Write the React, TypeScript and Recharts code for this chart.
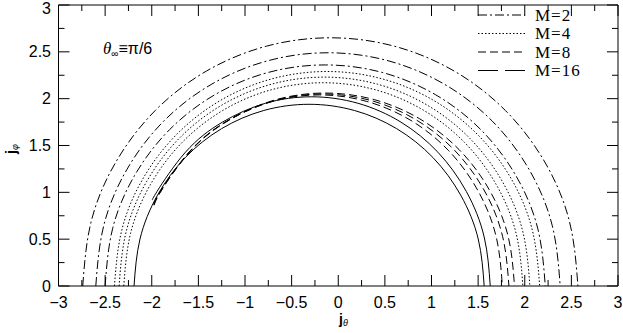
import React from 'react';
import { LineChart, Line, XAxis, YAxis } from 'recharts';

const X_TICKS = [-3, -2.75, -2.5, -2.25, -2, -1.75, -1.5, -1.25, -1, -0.75, -0.5, -0.25, 0, 0.25, 0.5, 0.75, 1, 1.25, 1.5, 1.75, 2, 2.25, 2.5, 2.75, 3];
const Y_TICKS = [0, 0.25, 0.5, 0.75, 1, 1.25, 1.5, 1.75, 2, 2.25, 2.5, 2.75, 3];

// M=2 (dash-dot)
const m2a = [[-2.74, 0], [-2.65, 0.686], [-2.384, 1.325], [-1.962, 1.874], [-1.413, 2.295], [-0.772, 2.56], [-0.085, 2.65], [0.602, 2.56], [1.243, 2.295], [1.792, 1.874], [2.214, 1.325], [2.48, 0.686], [2.57, 0]];
const m2b = [[-2.6, 0], [-2.515, 0.644], [-2.266, 1.245], [-1.871, 1.761], [-1.355, 2.156], [-0.754, 2.405], [-0.11, 2.49], [0.534, 2.405], [1.135, 2.156], [1.651, 1.761], [2.046, 1.245], [2.295, 0.644], [2.38, 0]];
const m2c = [[-2.5, 0], [-2.42, 0.611], [-2.184, 1.18], [-1.809, 1.669], [-1.32, 2.044], [-0.751, 2.28], [-0.14, 2.36], [0.471, 2.28], [1.04, 2.044], [1.529, 1.669], [1.904, 1.18], [2.14, 0.611], [2.22, 0]];
// M=4 (dotted)
const m4a = [[-2.4, 0], [-2.322, 0.593], [-2.095, 1.145], [-1.732, 1.619], [-1.26, 1.983], [-0.71, 2.212], [-0.12, 2.29], [0.47, 2.212], [1.02, 1.983], [1.492, 1.619], [1.855, 1.145], [2.082, 0.593], [2.16, 0]];
const m4b = [[-2.35, 0], [-2.275, 0.577], [-2.055, 1.115], [-1.705, 1.577], [-1.249, 1.931], [-0.718, 2.154], [-0.148, 2.23], [0.423, 2.154], [0.954, 1.931], [1.41, 1.577], [1.76, 1.115], [1.98, 0.577], [2.055, 0]];
const m4c = [[-2.3, 0], [-2.227, 0.562], [-2.013, 1.085], [-1.673, 1.534], [-1.23, 1.879], [-0.714, 2.096], [-0.16, 2.17], [0.394, 2.096], [0.91, 1.879], [1.353, 1.534], [1.693, 1.085], [1.907, 0.562], [1.98, 0]];
// M=8 (dashed)
const m8a = [[-1.98, 0.871], [-1.898, 1.03], [-1.575, 1.457], [-1.155, 1.784], [-0.665, 1.99], [-0.14, 2.06], [0.385, 1.99], [0.875, 1.784], [1.295, 1.457], [1.618, 1.03], [1.821, 0.533], [1.89, 0]];
const m8b = [[-1.973, 0.866], [-1.893, 1.025], [-1.576, 1.45], [-1.163, 1.775], [-0.681, 1.98], [-0.165, 2.05], [0.351, 1.98], [0.833, 1.775], [1.246, 1.45], [1.563, 1.025], [1.762, 0.531], [1.83, 0]];
const m8c = [[-1.976, 0.862], [-1.897, 1.02], [-1.586, 1.443], [-1.18, 1.767], [-0.707, 1.97], [-0.2, 2.04], [0.307, 1.97], [0.78, 1.767], [1.186, 1.443], [1.497, 1.02], [1.693, 0.528], [1.76, 0]];
// solid
const solidA = [[-1.99, 0.92], [-1.943, 1.01], [-1.639, 1.428], [-1.243, 1.749], [-0.781, 1.951], [-0.285, 2.02], [0.211, 1.951], [0.673, 1.749], [1.069, 1.428], [1.373, 1.01], [1.565, 0.523], [1.63, 0]];
const solidB = [[-2.19, 0], [-2.126, 0.502], [-1.938, 0.97], [-1.64, 1.372], [-1.251, 1.68], [-0.798, 1.874], [-0.313, 1.94], [0.173, 1.874], [0.626, 1.68], [1.015, 1.372], [1.313, 0.97], [1.501, 0.502], [1.565, 0]];

const LEGEND = ['M=2', 'M=4', 'M=8', 'M=16'];
const DASH_M2 = '9 3 2 3';
const DASH_M4 = '1.5 2';
const DASH_M8 = '8 4';
const DASH_M16 = '20 7';

const toPts = (arr: number[][]) => arr.map(([x, y]) => ({ x, y }));

const SERIES = [
  { id: 'm2a', data: m2a, dash: DASH_M2 },
  { id: 'm2b', data: m2b, dash: DASH_M2 },
  { id: 'm2c', data: m2c, dash: DASH_M2 },
  { id: 'm4a', data: m4a, dash: DASH_M4 },
  { id: 'm4b', data: m4b, dash: DASH_M4 },
  { id: 'm4c', data: m4c, dash: DASH_M4 },
  { id: 'm8a', data: m8a, dash: DASH_M8 },
  { id: 'm8b', data: m8b, dash: DASH_M8 },
  { id: 'm8c', data: m8c, dash: DASH_M8 },
  { id: 'sa', data: solidA, dash: undefined },
  { id: 'sb', data: solidB, dash: undefined },
];

const FONT = '"Liberation Sans", Arial, sans-serif';
const fmt = (v: number) => (v < 0 ? '\u2212' + String(-v) : String(v));
const isMajor = (v: number) => Math.abs(v * 2 - Math.round(v * 2)) < 1e-6;
const MAJ = 11;
const MIN = 6;

const BottomTick = (p: any) => {
  const v = p.payload.value;
  const maj = isMajor(v);
  return (
    <g>
      <line x1={p.x} x2={p.x} y1={p.y} y2={p.y - (maj ? MAJ : MIN)} stroke="#000" strokeWidth={1} />
      {maj && (
        <text x={p.x} y={p.y + 16} textAnchor="middle" dominantBaseline="central" fontFamily={FONT} fontSize={16} fill="#000">
          {fmt(v)}
        </text>
      )}
    </g>
  );
};
const TopTick = (p: any) => {
  const maj = isMajor(p.payload.value);
  return <line x1={p.x} x2={p.x} y1={p.y} y2={p.y + (maj ? MAJ : MIN)} stroke="#000" strokeWidth={1} />;
};
const LeftTick = (p: any) => {
  const v = p.payload.value;
  const maj = isMajor(v);
  return (
    <g>
      <line x1={p.x} x2={p.x + (maj ? MAJ : MIN)} y1={p.y} y2={p.y} stroke="#000" strokeWidth={1} />
      {maj && (
        <text x={p.x - 7.5} y={Math.max(p.y, 8)} textAnchor="end" dominantBaseline="central" fontFamily={FONT} fontSize={16} fill="#000">
          {fmt(v)}
        </text>
      )}
    </g>
  );
};
const RightTick = (p: any) => {
  const maj = isMajor(p.payload.value);
  return <line x1={p.x} x2={p.x - (maj ? MAJ : MIN)} y1={p.y} y2={p.y} stroke="#000" strokeWidth={1} />;
};

export default function App() {
  const legendDashes = [DASH_M2, DASH_M4, DASH_M8, DASH_M16];
  return (
    <div style={{ position: 'absolute', left: 0, top: 0, width: 623, height: 333, background: '#fff' }}>
      <LineChart width={623} height={333} margin={{ top: 4, right: 4, bottom: 46, left: 57.5 }}>
        <XAxis xAxisId="b" type="number" dataKey="x" domain={[-3, 3]} ticks={X_TICKS} interval={0} height={1}
          tickSize={0} tickMargin={0} tickLine={false} axisLine={{ stroke: '#000' }} tick={(p: any) => <BottomTick {...p} />} allowDataOverflow />
        <XAxis xAxisId="t" orientation="top" type="number" dataKey="x" domain={[-3, 3]} ticks={X_TICKS} interval={0} height={1}
          tickSize={0} tickMargin={0} tickLine={false} axisLine={{ stroke: '#000' }} tick={(p: any) => <TopTick {...p} />} allowDataOverflow />
        <YAxis yAxisId="l" type="number" domain={[0, 3]} ticks={Y_TICKS} interval={0} width={1}
          tickSize={0} tickMargin={0} tickLine={false} axisLine={{ stroke: '#000' }} tick={(p: any) => <LeftTick {...p} />} allowDataOverflow />
        <YAxis yAxisId="r" orientation="right" type="number" domain={[0, 3]} ticks={Y_TICKS} interval={0} width={1}
          tickSize={0} tickMargin={0} tickLine={false} axisLine={{ stroke: '#000' }} tick={(p: any) => <RightTick {...p} />} allowDataOverflow />
        {SERIES.map((s) => (
          <Line key={s.id} data={toPts(s.data)} xAxisId="b" yAxisId="l" dataKey="y" type="natural" dot={false} activeDot={false}
            stroke="#000" strokeWidth={1} strokeDasharray={s.dash} isAnimationActive={false} />
        ))}
      </LineChart>
      <svg width={623} height={333} style={{ position: 'absolute', left: 0, top: 0, pointerEvents: 'none' }}>
        {LEGEND.map((t, i) => {
          const y = 15 + i * 18.5;
          return (
            <g key={t}>
              <line x1={478} x2={525} y1={y} y2={y} stroke="#000" strokeWidth={1} strokeDasharray={legendDashes[i]} />
              <text x={535} y={y} dominantBaseline="central" fontFamily='"Liberation Serif", serif' fontSize={17} letterSpacing={1} fill="#000">{t}</text>
            </g>
          );
        })}
        <text x={103} y={54} fill="#000">
          <tspan fontFamily='"Liberation Serif", serif' fontStyle="italic" fontSize={17}>θ</tspan>
          <tspan fontFamily={FONT} fontSize={10} dy={3}>∞</tspan>
          <tspan fontFamily={FONT} fontSize={16} dy={-3}>≡π/6</tspan>
        </text>
        <text x={339} y={324} fill="#000" fontFamily={FONT}>
          <tspan fontSize={14} fontWeight="bold">j</tspan>
          <tspan fontSize={9} fontStyle="italic" dy={2}>θ</tspan>
        </text>
        <text x={0} y={0} transform="translate(16,154) rotate(-90)" fill="#000" fontFamily={FONT}>
          <tspan fontSize={14} fontWeight="bold">j</tspan>
          <tspan fontSize={9} fontStyle="italic" dy={2}>φ</tspan>
        </text>
      </svg>
    </div>
  );
}
